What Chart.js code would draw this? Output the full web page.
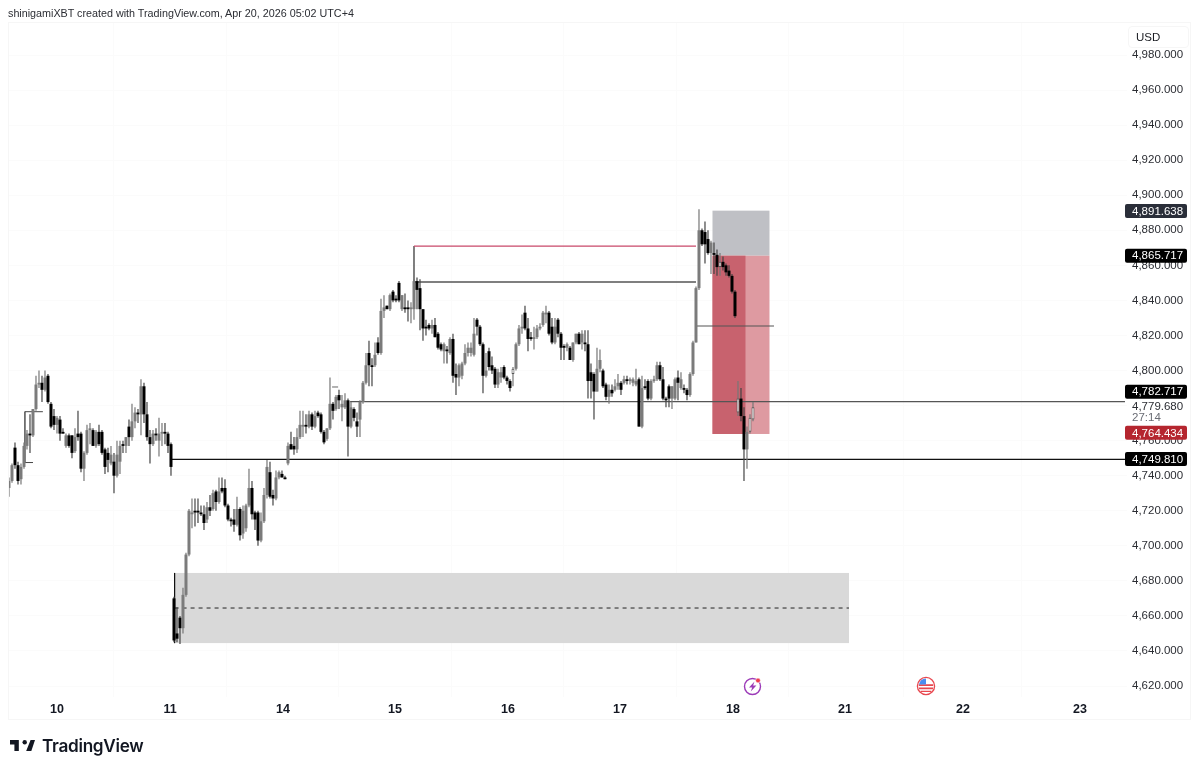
<!DOCTYPE html>
<html>
<head>
<meta charset="utf-8">
<title>XAUUSD</title>
<script src="https://cdn.jsdelivr.net/npm/chart.js@4/dist/chart.umd.js"></script>
<style>
  html, body { margin: 0; padding: 0; background: #fff; }
  #page { position: relative; width: 1200px; height: 771px; overflow: hidden; font-family: "Liberation Sans", sans-serif; color: #1a1c22; }
  canvas { position: absolute; left: 0; top: 0; }
  #byline { position: absolute; left: 8px; top: 6px; font-size: 10.75px; line-height: 14px; color: #2b2d33; white-space: nowrap; }
  #usd { position: absolute; left: 1128px; top: 26px; width: 59px; height: 20px; border: 1px solid #f6f6f6; border-radius: 4px; font-size: 11.5px; line-height: 20px; text-indent: 7px; box-sizing: content-box; }
  #brand { position: absolute; left: 42px; top: 735px; font-family: Inter, sans-serif; font-weight: 600; font-size: 17.2px; line-height: 22px; color: #131722; letter-spacing: -0.3px; }
  svg { position: absolute; }
</style>
</head>
<body>
<div id="page">
  <canvas id="chart" width="1200" height="771"></canvas>
  <div id="byline">shinigamiXBT created with TradingView.com, Apr 20, 2026 05:02 UTC+4</div>
  <div id="usd">USD</div>
  <svg style="left:10px;top:738px" width="25" height="15" viewBox="0 5 34 17"><path fill="#131722" d="M14 6H0v6h6v9h6V6zm15 15h-7L28 6h6z"/><circle fill="#131722" cx="20" cy="9" r="3"/></svg>
  <div id="brand">TradingView</div>
  <svg style="left:742px;top:675px" width="22" height="22" viewBox="0 0 22 22">
    <circle cx="10.5" cy="11.5" r="8" fill="#fff" stroke="#9c3bb8" stroke-width="1.4"/>
    <path d="M12.5 6.5 L7 12.5 h3.2 L8.8 16.5 L14.4 10.4 h-3.3 z" fill="#9c3bb8"/>
    <circle cx="16" cy="5.5" r="2.4" fill="#ef3a50" stroke="#fff" stroke-width="0.6"/>
  </svg>
  <svg style="left:915px;top:675px" width="22" height="22" viewBox="0 0 22 22">
    <circle cx="11" cy="11" r="8.6" fill="#fff" stroke="#e8474f" stroke-width="1.3"/>
    <path d="M3.8 9.2h14.4v1.8H3.8zM4 12.6h14v1.7H4zM5.6 15.8h10.8v1.2H5.6z" fill="#e8474f"/>
    <path d="M4 9.6a7.4 7.4 0 0 1 7-6v6z" fill="#4b8df0"/>
  </svg>
</div>

<script>
// gold, prices. one bar per slot on the x axis
const opens = [
  4733,4737,4756,4746,4738,4745,4757,4764,4763,4778,
  4792,4793,4789,4797,4781,4774,4769,4772,4765,4757,
  4763,4763,4754,4764,4764,4744,4753,4766,4766,4757,
  4765,4765,4755,4753,4747,4748,4740,4748,4758,4757,
  4768,4762,4771,4776,4775,4791,4775,4762,4758,4764,
  4760,4764,4765,4764,4758,4670,4650,4659,4653,4672,
  4695,4718,4720,4720,4719,4718,4715,4722,4721,4731,
  4725,4733,4733,4723,4715,4715,4712,4721,4707,4710,
  4723,4733,4719,4719,4703,4714,4729,4742,4729,4727,
  4739,4741,4739,4747,4758,4757,4755,4762,4768,4769,
  4768,4775,4768,4776,4775,4765,4761,4767,4781,4778,
  4786,4779,4779,4783,4768,4778,4771,4772,4782,4793,
  4810,4803,4803,4816,4810,4834,4837,4835,4845,4841,
  4850,4835,4836,4836,4835,4835,4851,4847,4835,4825,
  4826,4824,4826,4821,4815,4811,4812,4810,4818,4798,
  4796,4797,4804,4810,4810,4809,4829,4825,4815,4797,
  4811,4803,4801,4792,4796,4802,4796,4794,4798,4801,
  4815,4824,4833,4824,4819,4818,4819,4824,4826,4832,
  4833,4825,4816,4829,4821,4814,4813,4813,4806,4816,
  4821,4816,4816,4815,4799,4798,4788,4801,4800,4792,
  4785,4789,4789,4791,4793,4793,4795,4794,4793,4792,
  4795,4768,4791,4794,4784,4794,4795,4803,4795,4784,
  4791,4784,4784,4796,4790,4790,4789,4786,4798,4816,
  4847,4880,4879,4875,4867,4867,4866,4859,4862,4860,
  4857,4854,4845,4776,4784,4774,4755,4765,4772
];
const highs = [
  4739,4747,4759,4748,4747,4759,4766,4775,4778,4797,
  4800,4797,4800,4798,4782,4778,4774,4774,4767,4764,
  4764,4763,4767,4777,4765,4754,4769,4770,4767,4766,
  4769,4766,4756,4756,4757,4753,4760,4760,4760,4762,
  4772,4781,4779,4778,4795,4793,4782,4766,4766,4767,
  4773,4770,4770,4765,4759,4671,4665,4660,4676,4696,
  4721,4727,4727,4727,4723,4723,4725,4729,4732,4732,
  4739,4739,4738,4724,4716,4721,4728,4722,4723,4724,
  4744,4737,4720,4720,4719,4733,4749,4748,4732,4743,
  4743,4743,4740,4759,4765,4762,4767,4777,4777,4775,
  4777,4776,4777,4777,4776,4766,4767,4796,4782,4786,
  4789,4786,4787,4784,4782,4779,4776,4783,4794,4810,
  4817,4807,4816,4819,4841,4843,4837,4844,4846,4843,
  4851,4843,4844,4840,4839,4852,4853,4852,4835,4829,
  4827,4829,4830,4822,4816,4816,4814,4819,4821,4804,
  4804,4805,4815,4816,4816,4830,4830,4826,4816,4810,
  4813,4808,4802,4801,4802,4803,4797,4795,4802,4816,
  4826,4832,4837,4830,4822,4825,4826,4827,4834,4837,
  4834,4830,4830,4830,4822,4815,4816,4814,4816,4821,
  4822,4823,4823,4823,4804,4799,4813,4812,4801,4793,
  4792,4792,4795,4798,4794,4797,4797,4796,4796,4801,
  4796,4797,4795,4795,4795,4797,4805,4805,4802,4785,
  4792,4791,4796,4800,4799,4792,4790,4799,4817,4848,
  4892,4881,4885,4880,4874,4873,4869,4867,4865,4861,
  4860,4855,4846,4794,4790,4779,4768,4775,4782
];
const lows = [
  4728,4736,4744,4735,4735,4744,4755,4753,4762,4777,
  4790,4782,4788,4781,4767,4766,4764,4760,4764,4756,
  4756,4750,4753,4760,4742,4737,4752,4758,4757,4756,
  4757,4752,4741,4742,4746,4730,4739,4741,4753,4753,
  4757,4760,4767,4770,4763,4770,4760,4747,4757,4760,
  4751,4757,4758,4753,4740,4645,4645,4644,4650,4671,
  4694,4710,4711,4713,4717,4709,4713,4717,4720,4720,
  4724,4730,4722,4714,4711,4708,4711,4703,4704,4708,
  4722,4715,4709,4700,4702,4713,4727,4727,4723,4726,
  4738,4739,4738,4746,4755,4752,4753,4761,4762,4764,
  4767,4766,4767,4773,4764,4758,4760,4766,4772,4777,
  4778,4771,4778,4751,4767,4771,4762,4762,4781,4792,
  4791,4791,4802,4809,4809,4830,4835,4834,4839,4839,
  4839,4834,4833,4828,4827,4829,4835,4823,4817,4820,
  4823,4821,4819,4812,4811,4804,4804,4809,4793,4786,
  4791,4795,4803,4808,4808,4808,4820,4814,4787,4796,
  4800,4798,4790,4790,4793,4795,4792,4788,4791,4800,
  4814,4821,4823,4811,4817,4812,4818,4823,4825,4827,
  4820,4815,4815,4819,4806,4806,4811,4806,4805,4815,
  4815,4812,4811,4784,4784,4772,4788,4799,4790,4783,
  4781,4785,4788,4789,4786,4792,4792,4792,4791,4791,
  4768,4767,4789,4783,4783,4793,4794,4794,4783,4779,
  4779,4778,4783,4783,4789,4787,4783,4785,4797,4816,
  4846,4871,4861,4866,4855,4855,4854,4854,4857,4854,
  4853,4844,4830,4774,4771,4737,4744,4764,4771
];
const closes = [
  4737,4746,4746,4737,4745,4757,4764,4763,4778,4792,
  4793,4789,4796,4782,4768,4769,4773,4764,4764,4763,
  4757,4753,4762,4762,4744,4753,4766,4767,4757,4765,
  4758,4753,4745,4749,4752,4740,4752,4757,4757,4762,
  4762,4771,4776,4775,4791,4775,4762,4758,4764,4763,
  4764,4765,4764,4757,4745,4646,4647,4653,4672,4695,
  4720,4719,4719,4719,4718,4713,4722,4720,4730,4725,
  4731,4731,4723,4715,4714,4712,4721,4706,4720,4723,
  4733,4718,4715,4703,4714,4729,4745,4728,4727,4739,
  4742,4739,4738,4757,4755,4755,4762,4769,4769,4768,
  4775,4768,4774,4774,4765,4759,4767,4781,4777,4785,
  4783,4781,4783,4768,4779,4773,4768,4782,4793,4803,
  4803,4802,4809,4810,4834,4836,4835,4843,4840,4840,
  4840,4843,4835,4835,4836,4851,4846,4835,4824,4824,
  4824,4826,4819,4813,4812,4815,4811,4818,4797,4796,
  4803,4804,4810,4813,4813,4821,4825,4815,4797,4800,
  4802,4800,4792,4799,4799,4796,4794,4790,4801,4815,
  4824,4825,4824,4818,4818,4819,4824,4825,4833,4833,
  4821,4816,4825,4821,4813,4813,4815,4806,4816,4821,
  4815,4821,4815,4794,4794,4788,4801,4806,4791,4785,
  4789,4787,4791,4793,4789,4795,4794,4795,4795,4794,
  4768,4790,4790,4784,4794,4795,4803,4795,4784,4783,
  4784,4791,4795,4793,4795,4789,4786,4798,4816,4847,
  4880,4872,4872,4867,4873,4866,4859,4862,4859,4856,
  4854,4845,4831,4784,4774,4755,4765,4773,4779
];
// bars that still show white inside at this zoom
const hollowBars = [168, 237, 243, 247, 248];

// axis labels
const dayLabels = ['10', '11', '14', '15', '16', '17', '18', '21', '22', '23'];
const dayTicks = [16, 53.67, 91.33, 128.67, 166.33, 203.67, 241.33, 278.67, 318, 357];
const priceTicks = [4620, 4640, 4660, 4680, 4700, 4720, 4740, 4760, 4780, 4800, 4820, 4840, 4860, 4880, 4900, 4920, 4940, 4960, 4980];

// drawn levels, [bar, price]
const upperRedLevel = [[135, 4871], [229, 4871]];
const upperGreyLevel = [[135, 4850.5], [229, 4850.5]];
const upperStem = [[135, 4871], [135, 4850.5]];
const midLevel = [[229, 4825.4], [255, 4825.4]];
const keptLevel = [[113.7, 4782.3], [372, 4782.3]];
const lowLevel = [[54.3, 4749.3], [372, 4749.3]];
const demandMid = [[55.2, 4664.5], [280, 4664.5]];
const demandStem = [[55.2, 4684.5], [55.2, 4644.5]];
const oldBoxTop = [[5.3, 4776.5], [11.3, 4776.5]];
const oldBoxSide = [[5.3, 4776.5], [5.3, 4747.5]];
const oldBoxBottom = [[5.3, 4747.5], [8, 4747.5]];
const smallTick = [[107.7, 4790.6], [109.7, 4790.6]];

// [bar from, bar to, price from, price to]
const demandZone = [55.2, 280, 4684.5, 4644.5];
const stopZone = [234.5, 253.5, 4891.2, 4865.5];
const targetZone = [234.5, 253.5, 4865.5, 4763.8];
const targetZoneFilled = [234.5, 245.5, 4865.5, 4763.8];

// price tags on the axis
const tagPrices = [4891.638, 4865.717, 4782.717, 4764.434, 4749.81];
const tagColors = ['#2a2e39', '#000000', '#000000', '#b5262f', '#000000'];
const tagNudge = [1, 0.5, -9, 0, 0.5]; // TradingView stacks tags that collide
const lastPrice = 4779.68;
const countdown = '27:14';

const fmt = v => v.toLocaleString('en-US', { minimumFractionDigits: 3, maximumFractionDigits: 3 });

const lineSet = (pts, color, width, dash) => ({
  type: 'line',
  data: pts.map(p => ({ x: p[0], y: p[1] })),
  borderColor: color,
  borderWidth: width,
  borderDash: dash || [],
  pointRadius: 0,
  tension: 0,
  fill: false,
  order: 3
});

// zones under the candles, frame and tags on top
const overlay = {
  id: 'overlay',
  beforeDatasetsDraw(chart) {
    const { ctx, scales: { x, y } } = chart;
    const box = (z, color) => {
      const x0 = x.getPixelForValue(z[0]), x1 = x.getPixelForValue(z[1]);
      const y0 = y.getPixelForValue(z[2]), y1 = y.getPixelForValue(z[3]);
      ctx.fillStyle = color;
      ctx.fillRect(x0, y0, x1 - x0, y1 - y0);
    };
    ctx.save();
    box(demandZone, '#d9d9d9');
    box(stopZone, '#bfc0c5');
    box(targetZone, '#de9aa1');
    box(targetZoneFilled, '#c8626e');
    ctx.restore();
  },
  afterDraw(chart) {
    const { ctx, scales: { y } } = chart;
    ctx.save();
    ctx.strokeStyle = '#f6f6f6';
    ctx.lineWidth = 1;
    ctx.strokeRect(8.5, 22.5, 1182, 697);
    ctx.font = '11.5px "Liberation Sans"';
    ctx.textBaseline = 'middle';
    ctx.textAlign = 'left';

    // last price sits between the tags
    const ly = y.getPixelForValue(lastPrice);
    ctx.fillStyle = '#fff';
    ctx.fillRect(1129, ly - 6, 58, 24);
    ctx.fillStyle = '#2b2d33';
    ctx.fillText(fmt(lastPrice), 1132, ly + 0.5);
    ctx.fillStyle = '#6a6d75';
    ctx.fillText(countdown, 1132, ly + 12);

    tagPrices.forEach((p, i) => {
      const py = y.getPixelForValue(p) + tagNudge[i];
      ctx.fillStyle = tagColors[i];
      ctx.beginPath();
      ctx.roundRect(1125, py - 7, 62, 14, 2);
      ctx.fill();
      ctx.fillStyle = '#fff';
      ctx.fillText(fmt(p), 1132, py + 0.5);
    });
    ctx.restore();
  }
};

new Chart(document.getElementById('chart'), {
  type: 'bar',
  data: {
    datasets: [
      {
        data: closes.map((c, i) => ({ x: i, y: [opens[i], c] })),
        barThickness: 3,
        grouped: false,
        inflateAmount: 0,
        borderSkipped: false,
        backgroundColor: ctx => hollowBars.includes(ctx.dataIndex) ? '#ffffff' : (closes[ctx.dataIndex] >= opens[ctx.dataIndex] ? '#7b7b7b' : '#000000'),
        borderColor: '#555555',
        borderWidth: ctx => hollowBars.includes(ctx.dataIndex) ? 1 : 0,
        order: 1
      },
      {
        data: closes.map((c, i) => ({ x: i, y: [lows[i], highs[i]] })),
        barThickness: 1.2,
        grouped: false,
        inflateAmount: 0,
        backgroundColor: ctx => closes[ctx.dataIndex] >= opens[ctx.dataIndex] ? '#777777' : '#444444',
        order: 2
      },
      lineSet(upperRedLevel, '#c9496a', 1.3),
      lineSet(upperGreyLevel, '#555555', 1.5),
      lineSet(upperStem, '#6e6e6e', 1),
      lineSet(midLevel, '#555555', 1.2),
      lineSet(keptLevel, '#555555', 1.3),
      lineSet(lowLevel, '#111111', 1.2),
      lineSet(demandMid, '#222222', 1, [4, 4]),
      lineSet(demandStem, '#111111', 1),
      lineSet(oldBoxTop, '#444444', 1),
      lineSet(oldBoxSide, '#666666', 1),
      lineSet(oldBoxBottom, '#444444', 1),
      lineSet(smallTick, '#666666', 1)
    ]
  },
  options: {
    responsive: false,
    animation: false,
    layout: { padding: { left: 8, top: 22, right: 9, bottom: 51 } },
    plugins: { legend: { display: false }, tooltip: { enabled: false } },
    scales: {
      x: {
        type: 'linear',
        offset: false,
        min: -0.33,
        max: 372.67,
        afterBuildTicks: s => { s.ticks = dayTicks.map(v => ({ value: v })); },
        afterFit: s => { s.height = 23; },
        grid: { color: '#fbfbfb', drawTicks: false },
        border: { display: false },
        ticks: {
          autoSkip: false,
          maxRotation: 0,
          padding: 5,
          color: '#131722',
          font: { family: 'Liberation Sans', size: 12.5, weight: 'bold' },
          callback: (v, i) => dayLabels[i]
        }
      },
      y: {
        position: 'right',
        min: 4613.74,
        max: 4998.83,
        afterBuildTicks: s => { s.ticks = priceTicks.map(v => ({ value: v })); },
        afterFit: s => { s.width = 64; },
        grid: { color: '#fbfbfb', drawTicks: false },
        border: { display: false },
        ticks: {
          padding: 5,
          color: '#2b2d33',
          crossAlign: 'near',
          font: { family: 'Liberation Sans', size: 11.5 },
          callback: v => fmt(v)
        }
      }
    }
  },
  plugins: [overlay]
});
</script>
</body>
</html>
